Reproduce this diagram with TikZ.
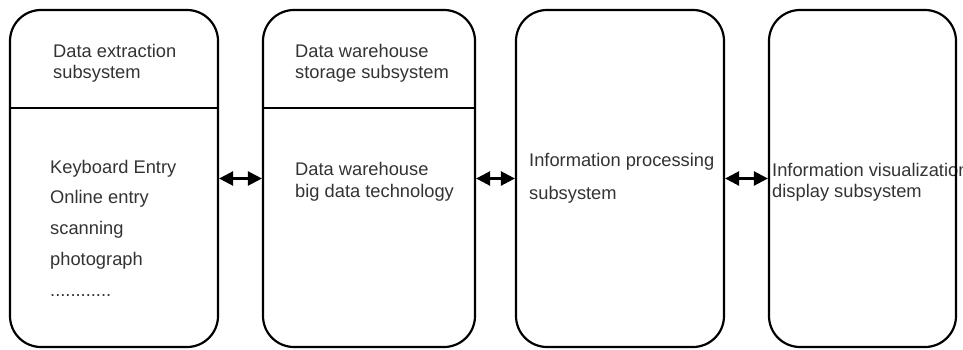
\documentclass[tikz,border=0pt]{standalone}
\usepackage{fontspec}
\setmainfont{Liberation Sans}
\usetikzlibrary{arrows.meta}
\definecolor{txt}{HTML}{333333}
\tikzset{
  sysbox/.style={draw=black, line width=2.2pt, rounded corners=31pt, minimum width=208pt, minimum height=337pt, inner sep=0pt},
  lbl/.style={anchor=base west, inner sep=0pt, text=txt, font=\fontsize{18.3}{21}\selectfont},
  biarrow/.style={line width=2.4pt, {Triangle[length=14pt,width=14pt]}-{Triangle[length=14pt,width=14pt]}},
  divider/.style={line width=2.2pt}
}
\begin{document}
\begin{tikzpicture}[x=1pt,y=-1pt]
\useasboundingbox (0,0) rectangle (963,350);
% texts
\node[lbl] (t1a) at (53,58) {Data extraction};
\node[lbl] (t1b) at (53,79) {subsystem};
\node[lbl] (l1) at (50,173) {Keyboard Entry};
\node[lbl] (l2) at (50,203) {Online entry};
\node[lbl] (l3) at (50,234) {scanning};
\node[lbl] (l4) at (50,265) {photograph};
\node[lbl] (l5) at (50,296) {............};
\node[lbl] (t2a) at (295,58) {Data warehouse};
\node[lbl] (t2b) at (295,79) {storage subsystem};
\node[lbl] (t2c) at (295,175) {Data warehouse};
\node[lbl] (t2d) at (295,197) {big data technology};
\node[lbl] (t3a) at (529,166) {Information processing};
\node[lbl] (t3b) at (529,199) {subsystem};
\node[lbl] (t4a) at (772,176) {Information visualization};
\node[lbl] (t4b) at (772,197) {display subsystem};
% boxes
\node[sysbox] (b1) at (114,178.5) {};
\node[sysbox, minimum width=212pt] (b2) at (369,178.5) {};
\node[sysbox] (b3) at (620,178.5) {};
\node[sysbox, minimum width=187pt] (b4) at (862.5,178.5) {};
% dividers
\draw[divider] (b1.west |- 0,108) -- (b1.east |- 0,108);
\draw[divider] (b2.west |- 0,108) -- (b2.east |- 0,108);
% arrows
\draw[biarrow] (b1.east) -- (b2.west);
\draw[biarrow] (b2.east) -- (b3.west);
\draw[biarrow] (b3.east) -- (b4.west);
\end{tikzpicture}
\end{document}
